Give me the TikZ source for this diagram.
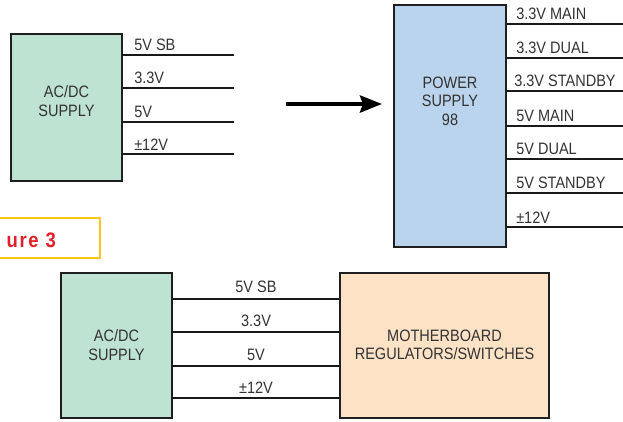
\documentclass[tikz,border=0pt]{standalone}
\usepackage{fontspec}
\setmainfont{Liberation Sans}[FakeStretch=0.88]
\usetikzlibrary{positioning,arrows.meta}
\definecolor{acgreen}{RGB}{190,227,211}
\definecolor{psblue}{RGB}{185,212,236}
\definecolor{mbpeach}{RGB}{253,226,198}
\definecolor{figred}{RGB}{227,32,42}
\definecolor{figyellow}{RGB}{250,196,30}

\begin{document}
\begin{tikzpicture}
    [x=1pt, y=-1pt,
    box/.style={draw=black!88, line width=2.8pt, inner sep=0pt},
    wire/.style={line width=1.7pt, black!90},
    lbl/.style={inner sep=0pt, text=black!80, font=\fontsize{16.5}{18.5}\selectfont},
    tag/.style={lbl, above right=3pt and 10pt}]
        \useasboundingbox (0,0) rectangle (623,421);

        %% AC/DC supply, old style
        \node[box, fill=acgreen, minimum width=111pt, minimum height=147pt] (AC) at (66.5,107.5) {};
        \node[lbl, align=center] (ACtext) at (66.5,101) {AC/DC\\SUPPLY};
        \coordinate (a1) at (234,55);
        \coordinate (a2) at (234,88);
        \coordinate (a3) at (234,122);
        \coordinate (a4) at (234,154);
        \draw[wire] (AC.east |- a1) -- (a1) node[pos=0, tag] {5V SB};
        \draw[wire] (AC.east |- a2) -- (a2) node[pos=0, tag] {3.3V};
        \draw[wire] (AC.east |- a3) -- (a3) node[pos=0, tag] {5V};
        \draw[wire] (AC.east |- a4) -- (a4) node[pos=0, tag] {±12V};

        %% arrow
        \coordinate (arrL) at (286,104);
        \coordinate (arrR) at (382,104);
        \draw[line width=4pt, -{Stealth[length=22pt, width=17pt, inset=3pt]}] (arrL) -- (arrR);

        %% Power Supply 98
        \node[box, fill=psblue, minimum width=112pt, minimum height=242pt] (PS) at (450,126) {};
        \node[lbl, align=center] (PStext) at (450,101) {POWER\\SUPPLY\\98};
        \coordinate (p1) at (623,24);
        \coordinate (p2) at (623,58);
        \coordinate (p3) at (623,91);
        \coordinate (p4) at (623,126);
        \coordinate (p5) at (623,159);
        \coordinate (p6) at (623,193);
        \coordinate (p7) at (623,227);
        \draw[wire] (PS.east |- p1) -- (p1) node[pos=0, tag, above right=3pt and 8pt] {3.3V MAIN};
        \draw[wire] (PS.east |- p2) -- (p2) node[pos=0, tag, above right=3pt and 8pt] {3.3V DUAL};
        \draw[wire] (PS.east |- p3) -- (p3) node[pos=0, tag, above right=3pt and 6pt] {3.3V STANDBY};
        \draw[wire] (PS.east |- p4) -- (p4) node[pos=0, tag, above right=3pt and 8pt] {5V MAIN};
        \draw[wire] (PS.east |- p5) -- (p5) node[pos=0, tag, above right=3pt and 8pt] {5V DUAL};
        \draw[wire] (PS.east |- p6) -- (p6) node[pos=0, tag, above right=3pt and 8pt] {5V STANDBY};
        \draw[wire] (PS.east |- p7) -- (p7) node[pos=0, tag, above right=3pt and 8pt] {±12V};

        %% figure tag
        \draw[figyellow, line width=2pt] (-5,218) rectangle (100,258);
        \node[inner sep=0pt, anchor=east, text=figred,
              font=\fontsize{21}{23}\selectfont\bfseries\addfontfeature{LetterSpace=8}] (fig) at (56,240) {ure 3};

        %% new style: supply and motherboard
        \node[box, fill=acgreen, minimum width=111pt, minimum height=145pt] (AC2) at (116.5,345.5) {};
        \node[lbl, align=center] (AC2text) at (116.5,345) {AC/DC\\SUPPLY};
        \node[box, fill=mbpeach, minimum width=209pt, minimum height=145pt] (MB) at (444.5,345.5) {};
        \node[lbl, align=center] (MBtext) at (444.5,345) {MOTHERBOARD\\REGULATORS/SWITCHES};
        \coordinate (b1) at (0,299);
        \coordinate (b2) at (0,332);
        \coordinate (b3) at (0,366);
        \coordinate (b4) at (0,398);
        \draw[wire] (AC2.east |- b1) -- node[lbl, above=5pt] {5V SB} (MB.west |- b1);
        \draw[wire] (AC2.east |- b2) -- node[lbl, above=4pt] {3.3V} (MB.west |- b2);
        \draw[wire] (AC2.east |- b3) -- node[lbl, above=4pt] {5V} (MB.west |- b3);
        \draw[wire] (AC2.east |- b4) -- node[lbl, above=4pt] {±12V} (MB.west |- b4);
    \end{tikzpicture}
\end{document}
